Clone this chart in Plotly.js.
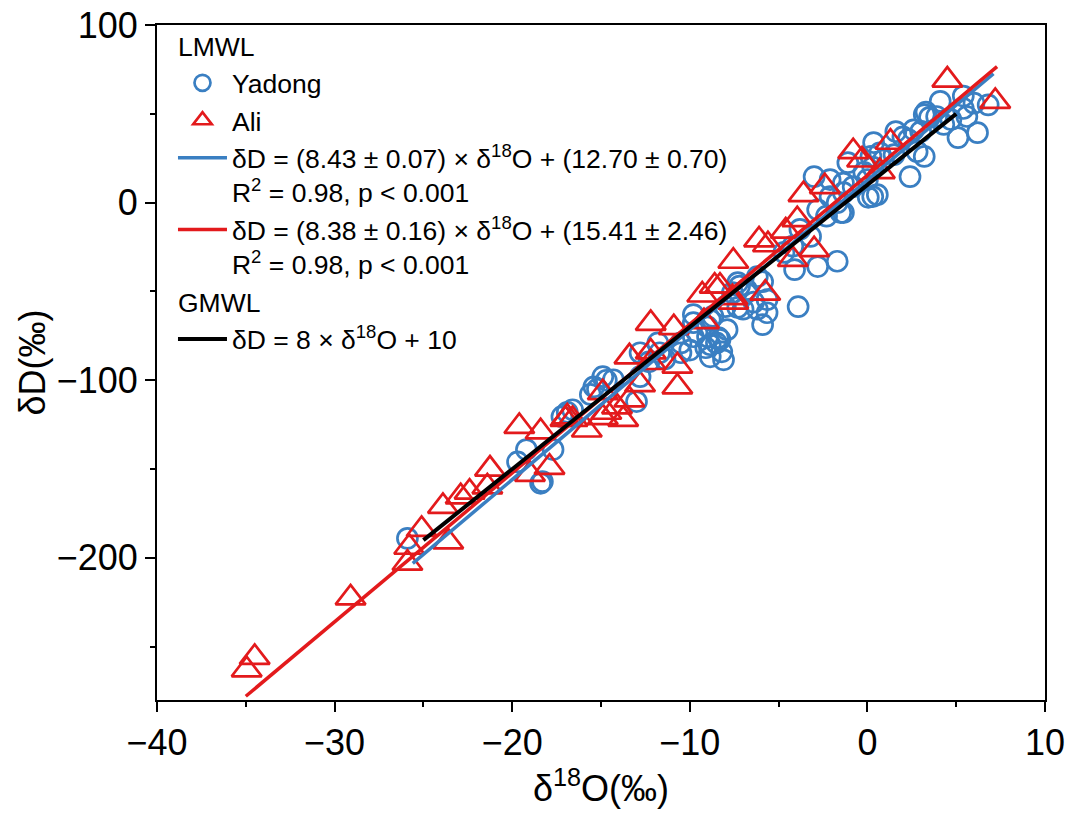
<!DOCTYPE html>
<html>
<head>
<meta charset="utf-8">
<script src="https://cdn.plot.ly/plotly-3.0.1.min.js"></script>
<style>html,body{margin:0;padding:0;background:#fff;}#chart{width:1072px;height:818px;}</style>
</head>
<body>
<div id="chart"></div>
<script>
// Yadong samples (δ18O, δD)
const yadongX = [-25.9,-19.7,-19.2,-18.4,-18.3,-17.7,-17.2,-16.6,-16.9,-15.2,-15.4,-14.9,-14.7,-14.3,-13.0,-12.8,-12.8,-12.3,-11.7,-11.4,-11.8,-10.5,-10.5,-10.0,-9.8,-9.6,-9.1,-8.85,-8.5,-8.3,-8.2,-8.1,-8.85,-7.9,-9.0,-8.85,-9.8,-9.8,-8.7,-5.9,-6.2,-5.65,-7.3,-7.2,-15.6,
  -3.0,-2.1,-1.35,-0.8,0.0,0.3,-2.1,-2.8,-2.3,-1.5,-3.8,-3.2,-4.2,-4.7,-2.8,-1.7,-4.1,-3.9,-5.9,-6.8,-6.4,-5.65,-7.3,-7.6,-8.0,-8.4,-9.0,-7.0,
  4.1,5.4,6.0,6.8,5.4,5.6,4.7,5.1,6.2,3.9,3.2,3.0,2.3,1.6,2.8,3.2,2.4,1.5,0.7,0.2,-0.2,0.3,0.56,0.05,-1.35,-1.35,3.3,2.6,2.0,-1.1,-1.7,-6.2,0.9,0.35,4.3,3.5];
const yadongY = [-189,-146,-139,-158,-157,-139,-120.5,-116.6,-118,-105,-103.7,-98,-100,-99.7,-112,-98,-84.5,-89.6,-84.5,-88,-79,-84.5,-79,-83,-75.5,-73,-81.7,-80,-79,-77,-84,-88.5,-86.8,-71.5,-70,-66,-67.6,-63,-64,-68.7,-60,-54.6,-59,-47,-108,
  14.6,13,11,9,13,3.4,3.4,-4,-7.6,-5.6,-15,-19,-24.5,-28,-36,-33,-37.7,-58.6,-44.5,-49,-56,-62,-45,-50.7,-58.6,-76,-75.5,-60,
  57,60,56,55,53,48.5,46.8,36.6,39.4,48.5,49.6,40,35.5,40,28.7,26,14.6,27,28,26,17,20,4.5,3,5.6,-5.6,51,41,37,22.5,0,-41.7,24,33.8,44,48];

// Ali samples (δ18O, δD)
const aliX = [-34.95,-34.5,-29.1,-25.9,-25.8,-25.1,-23.6,-23.9,-22.9,-22.4,-21.25,-21.4,-19.0,-19.6,-18.4,-17.9,-16.9,-16.6,-15.8,-14.9,-13.75,-14.7,-17.0,-14.1,-14.9,-13.4,-12.8,-10.7,-10.7,-13.4,-12.2,-12.2,-12.2,-10.9,-9.2,-9.3,-8.3,-7.55,-5.75,-7.6,-8.6,-7.55,-6.1,-5.6,-4.6,-3.95,-4.2,-3.0,-3.6,-2.4,-0.8,-0.3,0.7,1.3,4.5,7.2];
const aliY = [-263,-256,-222.5,-203,-194,-184,-191,-171,-165.6,-163,-150,-160,-153,-126,-129,-149,-120.6,-122,-128,-121,-122,-118,-122,-115,-107,-111,-102.5,-103.7,-92,-86.8,-84,-90,-68,-70.4,-67,-52,-47,-56,-51,-53.5,-47,-33,-21,-23.7,-16,-9.6,-32,-26.5,4.5,9,28.7,24,17.5,34,69,57];

// Water lines: δD = slope × δ18O + intercept, drawn over [xStart, xEnd]
const lineNames = [
  'δD = (8.43 ± 0.07) × δ<sup>18</sup>O + (12.70 ± 0.70)<br>R<sup>2</sup> = 0.98, p &lt; 0.001',
  'δD = (8.38 ± 0.16) × δ<sup>18</sup>O + (15.41 ± 2.46)<br>R<sup>2</sup> = 0.98, p &lt; 0.001',
  'δD = 8 × δ<sup>18</sup>O + 10'
];
const lineSlopes = [8.43, 8.38, 8];
const lineIntercepts = [12.70, 15.41, 10];
const lineXStart = [-25.6, -35.0, -25.0];
const lineXEnd = [7.1, 7.3, 5.0];
const lineGroups = ['lmwl', 'lmwl', 'gmwl'];

const BLUE = '#3A7FC2';
const RED = '#E31A1C';
const lineColors = [BLUE, RED, '#000000'];
const lineWidths = [3.5, 3.5, 4];

const FONT = 'Liberation Sans, Arial, sans-serif';
const LEGEND_SIZE = 26.5;

const traces = [
  {x: yadongX, y: yadongY, type: 'scatter', mode: 'markers', name: 'Yadong',
   legendgroup: 'lmwl', legendgrouptitle: {text: 'LMWL', font: {size: LEGEND_SIZE, color: '#000'}},
   marker: {symbol: 'circle-open', size: 20, color: BLUE, line: {width: 2.7, color: BLUE}}},
  {x: aliX, y: aliY, type: 'scatter', mode: 'markers', name: 'Ali',
   legendgroup: 'lmwl',
   marker: {symbol: 'triangle-up-open', size: 26, color: RED, line: {width: 2.7, color: RED}}}
];
for (let i = 0; i < lineSlopes.length; i++) {
  const xs = [lineXStart[i], lineXEnd[i]];
  const t = {
    x: xs, y: xs.map(v => lineSlopes[i] * v + lineIntercepts[i]),
    type: 'scatter', mode: 'lines', name: lineNames[i], legendgroup: lineGroups[i],
    line: {color: lineColors[i], width: lineWidths[i]}
  };
  if (lineGroups[i] === 'gmwl') t.legendgrouptitle = {text: 'GMWL', font: {size: LEGEND_SIZE, color: '#000'}};
  traces.push(t);
}

const axisCommon = {
  showgrid: false, zeroline: false, showline: true, linecolor: '#000', linewidth: 2,
  mirror: true, ticks: 'outside', ticklen: 10, tickwidth: 2, tickcolor: '#000',
  tickfont: {family: FONT, size: 36, color: '#000'}
};

const layout = {
  width: 1072, height: 818,
  margin: {l: 157, r: 27, t: 25, b: 118},
  paper_bgcolor: '#fff', plot_bgcolor: '#fff',
  font: {family: FONT, color: '#000'},
  showlegend: true,
  legend: {x: 0.018, y: 1.005, xanchor: 'left', yanchor: 'top', bgcolor: 'rgba(0,0,0,0)',
           borderwidth: 0, font: {family: FONT, size: LEGEND_SIZE, color: '#000'},
           traceorder: 'grouped', tracegroupgap: 0, valign: 'top', itemwidth: 49},
  xaxis: Object.assign({}, axisCommon, {
    range: [-40, 10], tickvals: [-40, -30, -20, -10, 0, 10],
    minor: {tickvals: [-35, -25, -15, -5, 5], ticklen: 5, tickwidth: 2, tickcolor: '#000', ticks: 'outside'},
    title: {text: 'δ<sup>18</sup>O(‰)', font: {family: FONT, size: 36, color: '#000'}, standoff: 6}
  }),
  yaxis: Object.assign({}, axisCommon, {
    range: [-280, 100], tickvals: [-200, -100, 0, 100],
    minor: {tickvals: [-250, -150, -50, 50], ticklen: 5, tickwidth: 2, tickcolor: '#000', ticks: 'outside'},
    title: {text: 'δD(‰)', font: {family: FONT, size: 36, color: '#000'}, standoff: 0}
  })
};

Plotly.newPlot('chart', traces, layout, {displayModeBar: false, staticPlot: true});
</script>
</body>
</html>
